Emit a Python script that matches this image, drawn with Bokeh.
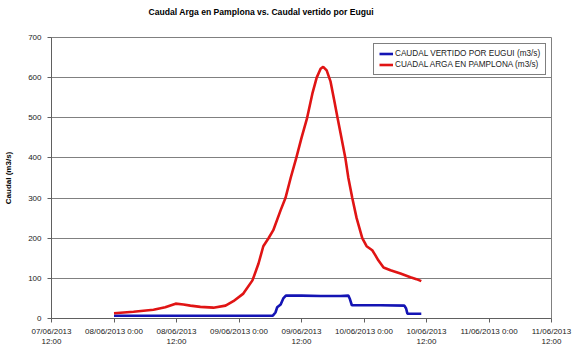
import pandas as pd
from bokeh.plotting import figure
from bokeh.models import Range1d, FixedTicker, Legend, LegendItem, Title
from bokeh.embed import file_html
from bokeh.resources import INLINE

# --- data ---
arga_times = [
    "2013-06-08 00:00", "2013-06-08 03:45", "2013-06-08 07:35", "2013-06-08 09:50",
    "2013-06-08 11:50", "2013-06-08 13:20", "2013-06-08 14:40", "2013-06-08 16:35",
    "2013-06-08 19:05", "2013-06-08 21:25", "2013-06-08 22:55", "2013-06-09 00:50",
    "2013-06-09 02:35", "2013-06-09 03:45", "2013-06-09 04:40", "2013-06-09 05:40",
    "2013-06-09 06:35", "2013-06-09 08:00", "2013-06-09 08:55", "2013-06-09 09:55",
    "2013-06-09 11:00", "2013-06-09 12:00", "2013-06-09 13:05", "2013-06-09 14:05",
    "2013-06-09 14:55", "2013-06-09 15:40", "2013-06-09 16:10", "2013-06-09 16:50",
    "2013-06-09 17:35", "2013-06-09 18:20", "2013-06-09 18:55", "2013-06-09 19:40",
    "2013-06-09 20:25", "2013-06-09 21:00", "2013-06-09 21:45", "2013-06-09 22:35",
    "2013-06-09 23:40", "2013-06-10 00:30", "2013-06-10 01:35", "2013-06-10 02:10",
    "2013-06-10 02:45", "2013-06-10 03:45", "2013-06-10 05:05", "2013-06-10 07:00",
    "2013-06-10 08:55", "2013-06-10 10:05", "2013-06-10 11:00",
]
arga_values = [
    13, 17, 22, 28, 37, 35, 32, 29, 27, 32, 43, 62, 95, 137, 180, 200, 220, 270,
    300, 350, 400, 450, 500, 560, 600, 622, 627, 618, 590, 540, 500, 450, 400, 350,
    300, 250, 200, 180, 170, 158, 145, 127, 120, 112, 103, 98, 93,
]
eugui_times = [
    "2013-06-08 00:00", "2013-06-09 06:30", "2013-06-09 07:00", "2013-06-09 07:20",
    "2013-06-09 08:00", "2013-06-09 08:30", "2013-06-09 09:00", "2013-06-09 12:00",
    "2013-06-09 15:40", "2013-06-09 19:30", "2013-06-09 21:00", "2013-06-09 21:15",
    "2013-06-09 21:40", "2013-06-10 03:10", "2013-06-10 07:45", "2013-06-10 08:05",
    "2013-06-10 08:20", "2013-06-10 11:00",
]
eugui_values = [7, 7, 15, 28, 35, 50, 57, 57, 56, 56, 57, 50, 33, 33, 32, 25, 12, 12]

tick_times = [
    "2013-06-07 12:00", "2013-06-08 00:00", "2013-06-08 12:00", "2013-06-09 00:00",
    "2013-06-09 12:00", "2013-06-10 00:00", "2013-06-10 12:00", "2013-06-11 00:00",
    "2013-06-11 12:00",
]
tick_labels = [
    "07/06/2013\n12:00", "08/06/2013 0:00", "08/06/2013\n12:00", "09/06/2013 0:00",
    "09/06/2013\n12:00", "10/06/2013 0:00", "10/06/2013\n12:00", "11/06/2013 0:00",
    "11/06/2013\n12:00",
]
y_ticks = [0, 100, 200, 300, 400, 500, 600, 700]

title_text = "Caudal Arga en Pamplona vs. Caudal vertido por Eugui"
y_label = "Caudal (m3/s)"
name_eugui = "CAUDAL VERTIDO POR EUGUI (m3/s)"
name_arga = "CUADAL ARGA EN PAMPLONA (m3/s)"

FONT = "Liberation Sans"


def ms(s):
    return pd.Timestamp(s).value / 1e6


tick_ms = [ms(t) for t in tick_times]

p = figure(
    width=572, height=351, x_axis_type="datetime",
    output_backend="svg", toolbar_location=None,
    x_range=Range1d(tick_ms[0], tick_ms[-1]), y_range=Range1d(0, 700),
    min_border_left=51, min_border_right=21, min_border_top=37, min_border_bottom=33,
)
p.background_fill_color = "white"
p.border_fill_color = "white"
p.outline_line_color = "#808080"

# spacer between the frame and the title (keeps the title near the top edge)
spacer = Title(text=" ", text_font_size="1px", standoff=11, text_color="white")
p.add_layout(spacer, "above")

p.title.text = title_text
p.title.align = "left"
p.title.vertical_align = "top"
p.title.text_font = FONT
p.title.text_font_size = "8.6px"
p.title.text_font_style = "bold"
p.title.text_color = "black"
p.title.offset = 97
p.title.standoff = 10

# axes
xa = p.xaxis[0]
xa.ticker = FixedTicker(ticks=tick_ms)
xa.major_label_overrides = {t: l for t, l in zip(tick_ms, tick_labels)}
xa.major_label_text_font = FONT
xa.major_label_text_font_size = "8px"
xa.major_label_text_color = "#222222"
xa.major_label_standoff = 4
xa.major_tick_out = 4
xa.major_tick_in = 0
xa.minor_tick_out = 0
xa.minor_tick_in = 0
xa.axis_line_color = "#606060"
xa.major_tick_line_color = "#606060"

ya = p.yaxis[0]
ya.ticker = FixedTicker(ticks=y_ticks)
ya.major_label_text_font = FONT
ya.major_label_text_font_size = "8px"
ya.major_label_text_color = "#222222"
ya.major_label_standoff = 6
ya.major_tick_out = 4
ya.major_tick_in = 0
ya.minor_tick_out = 0
ya.minor_tick_in = 0
ya.axis_line_color = "#606060"
ya.major_tick_line_color = "#606060"
ya.axis_label = y_label
ya.axis_label_text_font = FONT
ya.axis_label_text_font_size = "8px"
ya.axis_label_text_font_style = "bold"
ya.axis_label_text_color = "black"
ya.axis_label_standoff = 12

p.xgrid.grid_line_color = None
p.ygrid.grid_line_color = "#808080"
p.ygrid.grid_line_width = 1

r_eugui = p.line([pd.Timestamp(t) for t in eugui_times], eugui_values,
                 line_color="#1414B4", line_width=2.6)
r_arga = p.line([pd.Timestamp(t) for t in arga_times], arga_values,
                line_color="#E01414", line_width=2.6)

legend = Legend(
    items=[LegendItem(label=name_eugui, renderers=[r_eugui]),
           LegendItem(label=name_arga, renderers=[r_arga])],
    location=(322, 243),
    label_text_font=FONT, label_text_font_size="8.2px", label_text_color="#222222",
    glyph_width=14, glyph_height=9, label_height=9, label_standoff=2,
    spacing=2, padding=5, margin=0,
    border_line_color="black", border_line_width=1,
    background_fill_color="white", background_fill_alpha=1,
)
p.add_layout(legend)

open("out.html", "w").write(file_html(p, INLINE))
